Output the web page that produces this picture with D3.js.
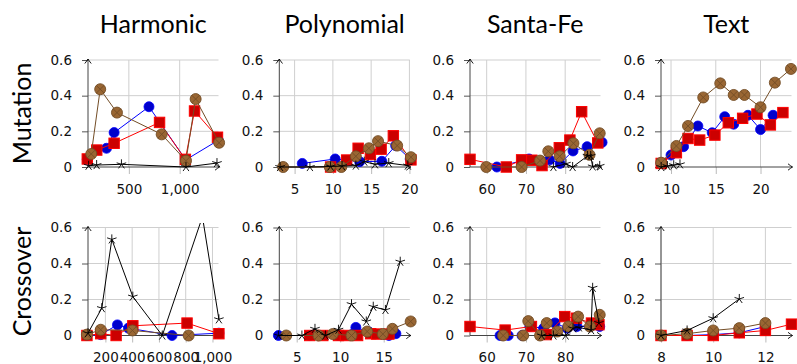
<!DOCTYPE html>
<html lang="en">

<head>
  <meta charset="utf-8">
  <title>Mutation and crossover by problem</title>
  <script src="https://cdnjs.cloudflare.com/ajax/libs/d3/7.8.5/d3.min.js"></script>
  <style>
    body { margin: 0; background: white; }
  </style>
</head>

<body>

  <div id="chart"></div>

  <script>
    // values, [x, rate] per series
    const problems = ['Harmonic', 'Polynomial', 'Santa-Fe', 'Text'];
    const operators = ['Mutation', 'Crossover'];
    const yTicks = [0, 0.2, 0.4, 0.6];

    const harmonicMutation = {
      blue: [[91, 0.043], [280, 0.105], [355, 0.193], [698, 0.338], [1060, 0.04], [1380, 0.15]],
      red: [[91, 0.045], [184, 0.095], [355, 0.133], [802, 0.25], [1056, 0.043], [1146, 0.314], [1372, 0.167]],
      brown: [[130, 0.073], [218, 0.436], [383, 0.305], [823, 0.183], [1062, 0.035], [1157, 0.381], [1388, 0.136]],
      black: [[104, 0.007], [183, 0.011], [427, 0.015], [1062, 0], [1367, 0.022]]
    };
    const polynomialMutation = {
      blue: [[6, 0.02], [10.3, 0.045], [13.5, 0.03], [16.4, 0.032], [18.2, 0.12], [20.1, 0.045]],
      red: [[9.7, 0], [11.8, 0.039], [13.3, 0.105], [14.9, 0.07], [16.3, 0.1], [17.9, 0.175], [20.2, 0.04]],
      brown: [[3.5, 0], [9.6, 0], [11.1, 0], [13, 0.06], [14.7, 0.105], [15.9, 0.145], [18.4, 0.12], [20.2, 0.055]],
      black: [[3.1, 0], [7, 0], [9.7, 0.003], [11.2, 0.005], [13, 0.008], [14.1, 0.03], [15.5, 0.015], [17.3, 0.022], [19.8, 0.008]]
    };
    const santaFeMutation = {
      blue: [[62.6, 0], [70.8, 0.045], [76, 0.04], [78.7, 0.02], [82, 0.09], [85.6, 0.114], [89.4, 0.138]],
      red: [[55.75, 0.043], [65, 0], [68.9, 0.04], [71.5, 0.038], [74.1, 0.008], [78.5, 0.108], [81.2, 0.151], [84.2, 0.31], [88.3, 0.135]],
      brown: [[59.9, 0], [68.9, 0], [73.6, 0.036], [75.7, 0.088], [78.6, 0.06], [82.1, 0.133], [86.2, 0.068], [88.8, 0.189]],
      black: [[77, 0], [80.2, 0.018], [81.9, 0], [85.7, 0.062], [86.5, 0.062], [87, 0.003], [88.8, 0.006]]
    };
    const textMutation = {
      blue: [[8.9, 0.02], [10, 0.067], [11.4, 0.114], [13, 0.23], [14.6, 0.192], [16, 0.282], [17, 0.24], [18.6, 0.29], [20, 0.21], [21.4, 0.29]],
      red: [[8.9, 0.02], [10.6, 0.08], [11.9, 0.16], [13.2, 0.151], [14.9, 0.179], [16.4, 0.248], [18, 0.273], [19.6, 0.297], [21.1, 0.236], [22.5, 0.305]],
      brown: [[8.9, 0.024], [10.6, 0.118], [11.9, 0.23], [13.6, 0.39], [15.5, 0.469], [17, 0.404], [18.2, 0.404], [20, 0.335], [21.6, 0.473], [23.4, 0.55]],
      black: [[8.9, 0], [9.6, 0.005], [10.3, 0.01], [11, 0.015]]
    };

    const harmonicCrossover = {
      blue: [[62, 0], [165, 0.005], [290, 0.059], [372, 0.041], [698, 0], [1048, 0.013]],
      red: [[62, 0], [165, 0.01], [280, 0], [405, 0.054], [810, 0.069], [1048, 0.01]],
      brown: [[62, 0.005], [165, 0.032], [402, 0.028], [822, 0]],
      black: [[70, 0.013], [173, 0.152], [248, 0.534], [405, 0.216], [625, 0], [925, 0.66], [1048, 0.09]]
    };
    const polynomialCrossover = {
      blue: [[2.9, 0], [6.5, 0], [9.8, 0], [11.8, 0.045], [13.3, 0.02], [15.6, 0], [16.4, 0.01]],
      red: [[6.5, 0], [8, 0], [9.8, 0], [10.6, 0], [12, 0], [13.5, 0.01], [14.2, 0.008], [15.6, 0.008]],
      brown: [[3.8, 0], [7.5, 0], [9.15, 0.008], [11.3, 0], [13.1, 0.022], [14.9, 0.008], [16, 0.037], [18.1, 0.078]],
      black: [[2.9, 0], [5.6, 0], [7.1, 0.037], [8.3, 0], [9.8, 0.032], [11.3, 0.174], [13, 0.078], [13.8, 0.16], [15.2, 0.142], [16.9, 0.41]]
    };
    const santaFeCrossover = {
      blue: [[63.4, 0], [65.5, 0], [69, 0], [71, 0.05], [74.5, 0.04], [77.4, 0.07], [80.5, 0.04], [83, 0.05], [86.5, 0.05], [88.8, 0.05]],
      red: [[55.75, 0.05], [64.7, 0.03], [71.4, 0.05], [75.2, 0.005], [79.9, 0.105], [82.9, 0.096], [86.7, 0.069], [88.6, 0.06]],
      brown: [[64.2, 0], [69.3, 0], [70.6, 0.08], [73.6, 0], [75.3, 0.069], [78, 0.022], [80.8, 0.05], [83.3, 0.105], [86.3, 0.05], [88.8, 0.115]],
      black: [[74, 0], [77, 0], [80.1, 0], [82, 0.04], [83.5, 0.045], [86.6, 0.03], [87, 0.265], [88.6, 0.07]]
    };
    const textCrossover = {
      blue: [[8, 0], [9, 0], [10, 0.005], [11, 0.015], [12, 0.05]],
      red: [[8, 0], [9, 0], [10, 0], [11, 0.015], [12, 0.028], [13, 0.063]],
      brown: [[8, 0], [9, 0.01], [10, 0.028], [11, 0.041], [12, 0.069]],
      black: [[8, 0], [9, 0.028], [10, 0.096], [11, 0.203]]
    };

    // x ranges and ticks of each panel
    const mutationDomains = [[98, 1382], [3, 20.05], [55.75, 89], [8.88, 23.46]];
    const mutationTicks = [[500, 1000], [5, 10, 15, 20], [60, 70, 80], [10, 15, 20]];
    const crossoverDomains = [[70, 1045], [3, 18], [55.75, 89], [8, 13]];
    const crossoverTicks = [[200, 400, 600, 800, 1000], [5, 10, 15], [60, 70, 80], [8, 10, 12]];

    const mutationData = [harmonicMutation, polynomialMutation, santaFeMutation, textMutation];
    const crossoverData = [harmonicCrossover, polynomialCrossover, santaFeCrossover, textCrossover];

    // layout
    const width = 797;
    const height = 364;
    const panelLefts = [88, 279.3, 470, 661];
    const panelWidth = 130.5;
    const rows = [
      { top: 60, height: 107, data: mutationData, domains: mutationDomains, ticks: mutationTicks },
      { top: 227.5, height: 108, data: crossoverData, domains: crossoverDomains, ticks: crossoverTicks }
    ];

    const styles = {
      blue: { line: '#0000ff', fill: '#0000cc', mark: 'circle' },
      red: { line: '#ff0000', fill: '#cc0000', mark: 'square' },
      brown: { line: '#734d26', fill: '#996633', mark: 'otimes' },
      black: { line: '#000000', fill: 'none', mark: 'star' }
    };
    const seriesOrder = ['blue', 'red', 'brown', 'black'];

    const svg = d3.select('#chart')
      .append('svg')
      .attr('width', width)
      .attr('height', height)
      .style('display', 'block');

    // titles and row labels
    svg.selectAll('text.title')
      .data(problems)
      .enter()
      .append('text')
      .attr('class', 'title')
      .attr('x', (d, i) => panelLefts[i] + panelWidth / 2)
      .attr('y', 33)
      .attr('text-anchor', 'middle')
      .style('font-family', 'Lato, "Open Sans", sans-serif')
      .style('font-size', '25px')
      .text(d => d);

    svg.selectAll('text.rowlabel')
      .data(operators)
      .enter()
      .append('text')
      .attr('class', 'rowlabel')
      .attr('transform', (d, i) => `translate(30.5, ${rows[i].top + rows[i].height / 2}) rotate(-90)`)
      .attr('text-anchor', 'middle')
      .style('font-family', 'Lato, "Open Sans", sans-serif')
      .style('font-size', '25px')
      .text(d => d);

    rows.forEach((row, r) => {
      problems.forEach((p, c) => {
        drawPanel(`p${r}${c}`, panelLefts[c], row.top, panelWidth, row.height,
          row.domains[c], row.ticks[c], row.data[c]);
      });
    });

    function arrowHead(g, x, y, angle) {
      g.append('path')
        .attr('d', 'M-4.5,-3.2 Q-1.6,-0.9 0,0 Q-1.6,0.9 -4.5,3.2')
        .attr('transform', `translate(${x}, ${y}) rotate(${angle})`)
        .attr('fill', 'none')
        .attr('stroke', '#000')
        .attr('stroke-width', 0.9);
    }

    function drawPanel(id, left, top, w, h, domain, ticks, data) {
      const xScale = d3.scaleLinear().domain(domain).range([left, left + w]);
      const yScale = d3.scaleLinear().domain([0, 0.6]).range([top + h, top]);
      const bottom = top + h;
      const g = svg.append('g');

      // grid
      g.selectAll('line.vgrid')
        .data(ticks)
        .enter()
        .append('line')
        .attr('x1', d => xScale(d))
        .attr('x2', d => xScale(d))
        .attr('y1', top)
        .attr('y2', bottom)
        .attr('stroke', '#cfcfcf');

      g.selectAll('line.hgrid')
        .data(yTicks.slice(1))
        .enter()
        .append('line')
        .attr('x1', left)
        .attr('x2', left + w)
        .attr('y1', d => yScale(d))
        .attr('y2', d => yScale(d))
        .attr('stroke', '#cfcfcf');

      // x axis
      const xAxis = d3.axisBottom(xScale)
        .tickValues(ticks)
        .tickSize(7)
        .tickPadding(10)
        .tickFormat(d3.format(','));
      const gx = g.append('g')
        .attr('transform', `translate(0, ${bottom})`)
        .call(xAxis);
      gx.select('.domain').remove();
      gx.selectAll('line').attr('stroke', '#bbbbbb');
      gx.selectAll('text')
        .style('font-family', '"DejaVu Sans", sans-serif')
        .style('font-size', '13.5px')
        .attr('fill', '#111');

      // y axis
      const yAxis = d3.axisLeft(yScale)
        .tickValues(yTicks)
        .tickSize(6)
        .tickPadding(10)
        .tickFormat(d3.format('~g'));
      const gy = g.append('g')
        .attr('transform', `translate(${left}, 0)`)
        .call(yAxis);
      gy.select('.domain').remove();
      gy.selectAll('line').attr('stroke', '#555');
      gy.selectAll('text')
        .style('font-family', '"DejaVu Sans", sans-serif')
        .style('font-size', '13.5px')
        .attr('fill', '#111');

      // axis lines with arrows
      g.append('line')
        .attr('x1', left).attr('x2', left)
        .attr('y1', bottom).attr('y2', top - 1)
        .attr('stroke', '#444');
      arrowHead(g, left, top - 1, -90);
      g.append('line')
        .attr('x1', left).attr('x2', left + w + 1)
        .attr('y1', bottom).attr('y2', bottom)
        .attr('stroke', '#444');
      arrowHead(g, left + w + 1, bottom, 0);

      // series, clipped just above 0.6
      svg.append('clipPath')
        .attr('id', 'clip-' + id)
        .append('rect')
        .attr('x', left - 10)
        .attr('y', yScale(0.625))
        .attr('width', w + 20)
        .attr('height', bottom + 12 - yScale(0.625));

      const plots = g.append('g').attr('clip-path', `url(#clip-${id})`);
      const line = d3.line().x(d => xScale(d[0])).y(d => yScale(d[1]));

      seriesOrder.forEach(key => {
        const pts = data[key];
        const st = styles[key];
        const sg = plots.append('g');
        sg.append('path')
          .datum(pts)
          .attr('d', line)
          .attr('fill', 'none')
          .attr('stroke', st.line)
          .attr('stroke-width', 1);

        const marks = sg.selectAll('g.mark')
          .data(pts)
          .enter()
          .append('g')
          .attr('transform', d => `translate(${xScale(d[0])}, ${yScale(d[1])})`);

        if (st.mark === 'circle') {
          marks.append('circle').attr('r', 5)
            .attr('fill', st.fill).attr('stroke', st.line).attr('stroke-width', 0.8);
        } else if (st.mark === 'square') {
          marks.append('rect').attr('x', -5.2).attr('y', -5.2).attr('width', 10.4).attr('height', 10.4)
            .attr('fill', st.fill).attr('stroke', st.line).attr('stroke-width', 1);
        } else if (st.mark === 'otimes') {
          marks.append('circle').attr('r', 5.5)
            .attr('fill', st.fill).attr('stroke', st.line).attr('stroke-width', 0.9);
          marks.append('path').attr('d', 'M-3.9,-3.9L3.9,3.9M-3.9,3.9L3.9,-3.9')
            .attr('stroke', st.line).attr('stroke-width', 0.9);
        } else {
          const spokes = d3.range(5).map(k => {
            const a = (90 + k * 72) * Math.PI / 180;
            return `M0,0L${(5 * Math.cos(a)).toFixed(2)},${(-5 * Math.sin(a)).toFixed(2)}`;
          }).join('');
          marks.append('path').attr('d', spokes)
            .attr('fill', 'none').attr('stroke', st.line).attr('stroke-width', 0.9);
        }
      });
    }
  </script>

</body>

</html>
